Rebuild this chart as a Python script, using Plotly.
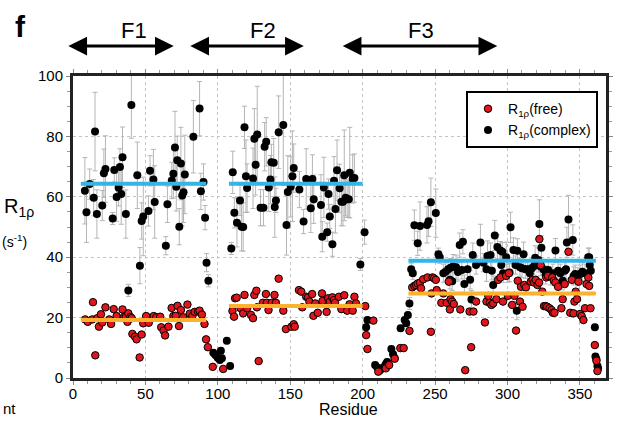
import plotly.graph_objects as go

# ---- R1rho of the complex (residue, rate, error) ----
complex_res = [
    8.2, 9.3, 11.5, 14.3, 15.2, 16.5, 20.2, 21.3, 22.4, 27.4, 28.5, 30.1, 31.5, 32.4, 33.3, 34.2,
    36.5, 38.2, 40.3, 44.4, 46.2, 47.4, 48.5, 52.1, 53.2, 55.5, 56.4, 64.1, 65.2, 68.2, 69.3, 70.4,
    71.3, 72.0, 73.4, 74.5, 75.4, 76.3, 77.2, 83.1, 87.4, 88.3, 90.1, 91.2, 92.2, 93.5,
    96.9, 98.3, 99.9, 101.4, 102.1, 102.8, 106.2, 108.5,
    109.3, 110.3, 111.4, 113.2, 115.3, 116.4, 117.5, 118.4, 119.4, 120.2, 124.3, 125.2, 126.1, 127.2,
    129.5, 131.5, 132.3, 133.4, 135.2, 136.3, 137.0, 138.6, 139.3, 140.1, 142.0, 145.2, 147.4, 148.3,
    150.3, 151.5, 152.4, 156.3, 159.2, 161.0, 164.2, 165.3, 166.2, 171.2, 172.1, 173.2, 175.5, 176.4,
    177.3, 179.1, 180.2, 181.2, 182.3, 184.1, 185.3, 186.4, 187.3, 188.2, 189.3, 190.4, 191.1, 193.1,
    194.3, 198.4, 201.3,
    202.4, 203.3, 208.6, 210.1, 212.0, 213.5, 214.9, 216.0, 216.9, 219.8, 221.0, 222.1, 226.2, 229.0,
    230.1, 231.2, 232.3, 233.5, 234.6,
    235.7, 238.0, 239.6, 244.4, 245.5, 247.1, 250.5, 252.3, 253.2, 255.7, 257.3, 259.0, 260.2, 260.7,
    261.8, 262.4, 264.5, 265.8, 267.0, 268.5, 269.2, 270.2, 272.4, 274.2, 275.1, 276.0, 278.3, 281.3,
    283.3, 285.5, 286.2, 288.3, 289.2, 290.1, 291.2, 293.0, 295.1, 295.7, 296.4, 296.9, 299.1, 300.3,
    301.4, 302.1, 304.1, 305.5, 306.4, 306.8, 308.6, 310.0, 311.1, 312.3, 313.9, 315.4, 316.8, 318.4,
    319.1, 321.3, 322.0, 322.9, 323.4, 324.7, 326.3, 328.1, 329.7, 331.3, 333.1, 334.9, 336.5, 338.1,
    339.5, 340.4, 341.0, 342.1, 345.1, 345.6, 346.7, 348.5, 350.1, 351.7, 353.5, 355.7, 356.4, 356.8,
    357.5, 360.3, 360.7, 361.4, 362.1, 362.5,
]
complex_val = [
    62.0, 54.9, 64.2, 59.7, 81.6, 54.3, 57.1, 67.8, 69.2, 52.8, 68.9, 59.9, 63.0, 69.9, 60.9, 73.1,
    54.3, 29.0, 90.4, 67.1, 37.2, 52.0, 53.5, 55.3, 68.6, 65.7, 58.3, 43.8, 57.5, 65.4, 67.6, 76.3,
    63.3, 72.1, 50.1, 71.0, 60.4, 61.5, 67.4, 79.9, 89.2, 61.8, 64.9, 53.1, 38.2, 32.2,
    8.4, 7.6, 6.7, 6.0, 9.0, 6.5, 12.3, 4.0,
    42.9, 68.1, 54.7, 51.4, 58.8, 50.1, 50.0, 83.0, 66.8, 62.9, 66.1, 79.2, 70.6, 80.6,
    56.4, 56.4, 76.6, 78.2, 63.1, 65.7, 71.4, 71.3, 56.6, 58.8, 81.4, 83.8, 50.7, 61.6,
    63.3, 66.8, 69.5, 62.4, 51.8, 65.9, 56.2, 65.9, 59.2, 57.3, 46.8, 63.1, 48.3, 60.9,
    53.5, 44.3, 65.3, 56.0, 68.8, 62.8, 58.4, 58.4, 67.1, 59.7, 59.2, 59.2, 68.0, 65.9,
    66.2, 37.6, 48.3,
    16.8, 19.2, 4.3, 3.5, 2.6, 3.2, 3.7, 4.6, 5.3, 9.6, 7.9, 6.5, 16.5, 19.2,
    18.1, 20.9, 24.7, 36.0, 34.7,
    50.6, 44.6, 50.3, 50.7, 51.9, 58.2, 54.6, 41.0, 40.0, 34.7, 35.2, 36.0, 32.5, 36.5,
    32.0, 36.9, 36.7, 35.1, 44.0, 35.8, 45.1, 31.1, 36.0, 32.5, 26.0, 40.7, 37.4, 44.9,
    38.2, 36.0, 40.4, 40.7, 35.5, 30.8, 47.2, 43.4, 42.2, 37.4, 41.8, 34.7, 40.0, 34.7,
    34.9, 49.9, 42.4, 37.4, 22.3, 42.1, 36.7, 36.3, 41.0, 36.0, 36.0, 34.7, 36.3, 37.1,
    39.8, 39.1, 51.0, 36.9, 43.1, 36.0, 34.1, 35.8, 33.8, 34.7, 42.2, 35.5, 34.7, 32.2,
    35.5, 36.0, 44.9, 52.5, 45.7, 33.8, 34.4, 33.5, 34.4, 35.2, 34.7, 40.0, 40.0, 37.4,
    35.5, 16.8, 7.1, 6.2, 4.0, 3.2,
]
complex_err = [
    11, 10, 5, 6, 13, 8, 5, 8, 11, 2, 4, 8, 6, 6, 10, 10,
    8, 2, 11, 11, 6, 6, 13, 5, 5, 10, 12, 3, 6, 6, 8, 12,
    8, 8, 6, 12, 10, 10, 13, 12, 9, 6, 6, 4, 3, 2,
    1, 1, 1, 1, 1, 1, 1, 1,
    2, 7, 5, 8, 5, 8, 8, 7, 12, 8, 10, 10, 10, 16,
    6, 6, 8, 8, 8, 8, 6, 8, 10, 4, 12, 20, 10, 12,
    10, 15, 8, 6, 4, 10, 8, 8, 8, 10, 5, 10, 3, 5,
    4, 4, 8, 8, 10, 8, 8, 8, 15, 6, 6, 6, 15, 8,
    8, 2, 4,
    1, 1, 1, 1, 1, 1, 1, 1, 1, 1, 1, 1, 1, 1,
    1, 1, 2, 2, 2,
    5, 4, 8, 6, 5, 8, 8, 2, 2, 3, 3, 3, 3, 3,
    3, 4, 4, 3, 4, 3, 4, 3, 3, 3, 3, 4, 3, 6,
    3, 4, 5, 4, 3, 3, 5, 4, 3, 3, 3, 3, 5, 3,
    3, 5, 4, 3, 3, 4, 3, 3, 4, 3, 3, 3, 3, 3,
    4, 4, 8, 3, 4, 3, 3, 3, 3, 3, 4, 3, 3, 3,
    3, 3, 5, 8, 5, 3, 3, 3, 3, 3, 3, 3, 3, 3,
    3, 1, 1, 1, 1, 1,
]

# ---- R1rho of the free protein (residue, rate) ----
free_res = [
    8.4, 10.2, 13.8, 13.3, 15.4, 16.8, 17.9, 19.3, 20.2, 22.4, 25.1, 26.3, 28.1, 30.1, 34.2, 35.3,
    36.5, 37.6, 38.2, 39.6, 40.5, 41.0, 42.8, 43.9, 46.0, 47.4, 48.5, 50.5, 52.3, 55.7, 57.5, 60.2,
    60.9, 62.5, 63.6, 65.9, 68.1, 69.3, 70.9, 72.2, 73.2, 74.5, 76.1, 79.0, 80.6, 82.4, 84.0, 86.3,
    87.4, 89.0, 90.8, 91.9, 93.1, 96.5, 103.7,
    110.1, 111.2, 111.9, 113.0, 115.7, 117.5, 118.4, 120.2, 122.9, 124.3, 125.2, 126.6, 127.0, 128.2,
    131.1, 133.2, 133.8, 135.0, 137.2, 139.1, 140.1, 142.0, 145.2, 147.0, 150.8, 152.4, 153.1, 156.0,
    157.6, 158.3, 161.0, 162.2, 163.2, 165.1, 166.0, 167.3, 169.0, 171.9, 172.3, 175.1, 176.2, 177.3,
    179.1, 180.2, 180.9, 183.6, 185.3, 187.3, 189.3, 190.9, 193.1, 194.3, 195.4, 201.8,
    202.4, 203.3, 207.4, 210.8, 216.0, 218.3, 222.1, 226.0, 228.3, 232.3,
    234.2, 235.7, 236.9, 238.0, 239.6, 240.3, 241.8, 244.8, 247.1, 247.5, 248.2, 249.3, 250.5, 251.1,
    254.3, 255.7, 258.0, 259.5, 260.2, 260.7, 261.8, 262.9, 267.4, 270.8, 273.8, 274.9, 276.5, 278.3,
    284.4, 285.5, 286.7, 287.8, 288.9, 290.1, 292.3, 293.5, 295.1, 296.9, 299.1, 300.3, 301.0, 303.2,
    304.8, 305.9, 307.1, 308.6, 309.3, 310.4, 311.6, 312.7, 316.1, 317.3, 318.4, 319.5, 320.7, 321.8,
    322.0, 322.9, 324.0, 325.2, 326.3, 326.8, 327.4, 327.9, 329.0, 330.4, 330.9, 331.3, 332.0, 332.4,
    333.1, 334.9, 337.2, 338.1, 339.5, 342.1, 343.3, 344.4, 345.6, 346.2, 347.1, 348.0, 349.0, 350.1,
    351.2, 352.4, 353.5, 354.6, 355.8, 356.4, 357.3, 360.3, 361.4, 362.1,
]
free_val = [
    19.4, 18.6, 25.1, 19.4, 7.5, 19.8, 17.0, 21.1, 18.4, 23.4, 19.4, 17.9, 22.8, 20.5, 22.7, 20.3,
    20.3, 18.6, 21.4, 20.2, 19.8, 14.6, 13.7, 12.8, 6.8, 14.4, 18.1, 20.5, 18.3, 20.5, 20.1, 20.3,
    16.8, 15.7, 14.1, 17.0, 23.2, 20.5, 20.6, 23.9, 17.2, 22.5, 20.1, 24.3, 21.3, 20.5, 21.9, 22.0,
    22.3, 21.0, 17.9, 12.8, 10.2, 3.7, 3.0,
    22.2, 20.3, 26.4, 26.6, 23.1, 21.4, 27.5, 23.1, 20.9, 19.8, 27.5, 28.9, 23.4, 5.6,
    24.9, 27.8, 24.9, 22.5, 24.9, 27.5, 24.9, 32.9, 22.3, 16.2, 17.0, 17.8, 17.0, 29.1,
    28.6, 23.4, 26.9, 26.7, 25.3, 27.8, 20.6, 24.7, 21.6, 28.0, 25.5, 21.9, 26.4, 25.3,
    26.7, 25.8, 24.9, 26.9, 22.8, 27.4, 22.3, 24.4, 22.3, 26.9, 24.7, 23.8,
    14.2, 9.6, 19.0, 2.1, 3.2, 4.3, 6.4, 9.9, 9.9, 15.6,
    30.0, 30.5, 30.8, 31.3, 31.6, 29.7, 32.7, 33.3, 15.3, 28.0, 33.3, 33.0, 32.5, 29.1,
    24.9, 28.0, 24.9, 31.9, 22.7, 26.1, 25.3, 24.5, 22.7, 2.6, 22.0, 10.2, 22.0, 25.3,
    18.4, 25.3, 27.2, 24.9, 24.2, 24.7, 26.1, 32.5, 33.3, 25.3, 33.8, 27.2, 34.7, 24.2,
    27.2, 15.7, 32.2, 25.3, 30.2, 23.6, 30.8, 30.0, 31.9, 32.5, 31.6, 32.5, 30.8, 31.6,
    46.0, 37.4, 28.6, 23.8, 23.8, 33.3, 23.6, 33.8, 23.1, 22.5, 33.3, 21.6, 32.2, 21.6,
    31.6, 30.2, 23.1, 26.1, 31.1, 41.8, 21.6, 32.5, 21.4, 25.3, 28.6, 26.1, 31.9, 21.2,
    20.5, 19.2, 23.1, 31.1, 33.3, 30.5, 23.1, 10.9, 5.7, 2.3,
]

# ---- Domain averages (start residue, end residue, free mean, complex mean) ----
domain_names = ["F1", "F2", "F3"]
domain_start = [5.4, 107.7, 231.6]
domain_end = [92.0, 200.0, 361.0]
mean_free = [19.2, 23.8, 28.0]
mean_complex = [64.3, 64.3, 38.8]

x_ticks = [0, 50, 100, 150, 200, 250, 300, 350]
y_ticks = [0, 20, 40, 60, 80, 100]

FONT = "Liberation Sans, Arial, Helvetica, sans-serif"
BLUE = "#33b5e8"
ORANGE = "#fcb22d"

fig = go.Figure()

fig.add_trace(go.Scatter(
    x=complex_res, y=complex_val, mode="markers",
    name="R<sub>1\u03c1</sub>(complex)", legendrank=2,
    marker=dict(color="black", size=8, line=dict(width=0)),
    error_y=dict(type="data", array=complex_err, visible=True,
                 color="#b5b5b5", thickness=1, width=2.5),
))
fig.add_trace(go.Scatter(
    x=free_res, y=free_val, mode="markers",
    name="R<sub>1\u03c1</sub>(free)", legendrank=1,
    marker=dict(color="#e0161c", size=7.5, line=dict(color="black", width=1)),
))

# domain mean lines
for s, e, mf, mc in zip(domain_start, domain_end, mean_free, mean_complex):
    fig.add_trace(go.Scatter(x=[s, e], y=[mc, mc], mode="lines", showlegend=False,
                             line=dict(color=BLUE, width=4), hoverinfo="skip"))
    fig.add_trace(go.Scatter(x=[s, e], y=[mf, mf], mode="lines", showlegend=False,
                             line=dict(color=ORANGE, width=4), hoverinfo="skip"))

# domain arrows above the plot (paper coordinates)
arrow_left = [-0.009, 0.220, 0.507]
arrow_right = [0.189, 0.433, 0.796]
label_x = [0.087, 0.328, 0.652]
PLOT_W = 540
annotations = []
for name, a, b, lx in zip(domain_names, arrow_left, arrow_right, label_x):
    annotations.append(dict(
        x=b, y=1.099, xref="paper", yref="paper", text="", showarrow=True,
        ax=-(b - a) * PLOT_W, ay=0, axref="pixel", ayref="pixel",
        arrowhead=2, arrowside="end+start", arrowsize=1.25, arrowwidth=3,
        arrowcolor="black", standoff=0, startstandoff=0,
    ))
    annotations.append(dict(
        x=lx, y=1.152, xref="paper", yref="paper", yanchor="middle", text=name,
        showarrow=False, font=dict(family=FONT, size=22, color="black"),
    ))

annotations += [
    dict(x=-0.112, y=1.165, xref="paper", yref="paper", yanchor="middle", text="<b>f</b>",
         showarrow=False, font=dict(family=FONT, size=30, color="black")),
    dict(x=-0.134, y=0.565, xref="paper", yref="paper", xanchor="left", yanchor="middle",
         text="R<sub>1\u03c1</sub>", showarrow=False,
         font=dict(family=FONT, size=20, color="black")),
    dict(x=-0.137, y=0.452, xref="paper", yref="paper", xanchor="left", yanchor="middle",
         text="(s<sup>-1</sup>)", showarrow=False,
         font=dict(family=FONT, size=14, color="black")),
    dict(x=0.517, y=-0.104, xref="paper", yref="paper", yanchor="middle", text="Residue",
         showarrow=False, font=dict(family=FONT, size=16, color="black")),
    dict(x=-0.135, y=-0.1, xref="paper", yref="paper", xanchor="left", yanchor="middle",
         text="nt", showarrow=False, font=dict(family=FONT, size=15, color="black")),
]

axis_common = dict(
    showline=True, linewidth=3, linecolor="#222222", mirror="allticks",
    ticks="outside", ticklen=4, tickwidth=1, tickcolor="#888888",
    showgrid=True, gridcolor="#c4c4c4", griddash="3px,3px", gridwidth=1,
    zeroline=False, tickfont=dict(family=FONT, size=15, color="black"),
)

fig.update_xaxes(range=[0, 368], tickvals=x_ticks, ticklabelstandoff=-4,
                 minor=dict(dtick=10, ticks="outside", ticklen=3, tickcolor="#999999", showgrid=False),
                 **axis_common)
fig.update_yaxes(range=[0, 100], tickvals=y_ticks,
                 minor=dict(dtick=5, ticks="outside", ticklen=3, tickcolor="#999999", showgrid=False),
                 **axis_common)

fig.update_layout(
    width=625, height=423,
    margin=dict(l=73, r=12, t=76, b=45),
    paper_bgcolor="white", plot_bgcolor="white",
    showlegend=True,
    legend=dict(x=0.985, y=0.95, xanchor="right", yanchor="top",
                bgcolor="white", bordercolor="black", borderwidth=2,
                font=dict(family=FONT, size=14, color="black"),
                itemsizing="trace", tracegroupgap=0),
    annotations=annotations,
    font=dict(family=FONT),
)

fig.write_html("out.html")
